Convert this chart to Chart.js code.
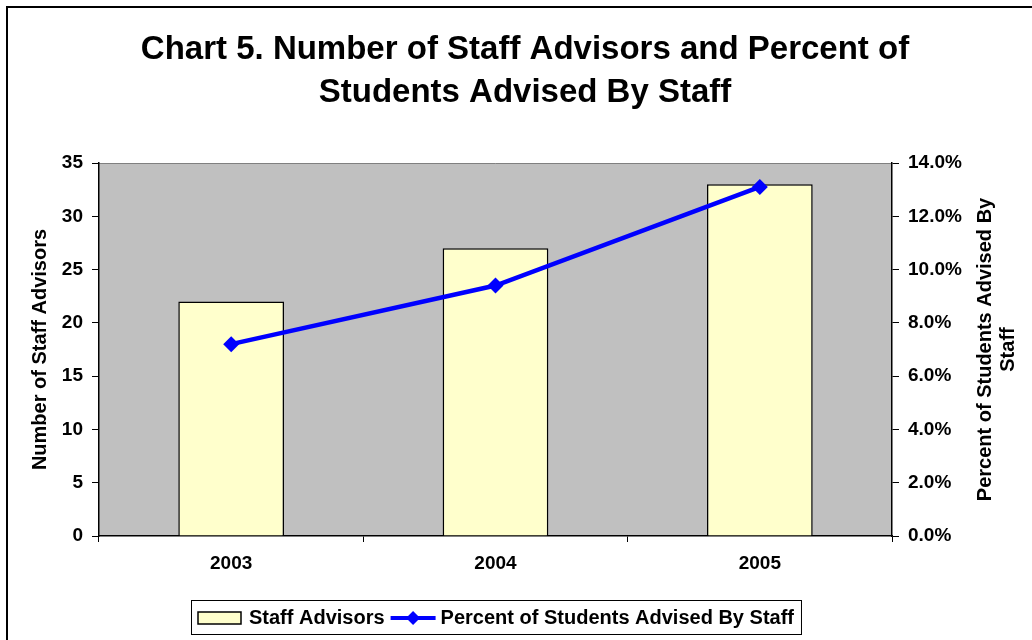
<!DOCTYPE html>
<html>
<head>
<meta charset="utf-8">
<script src="https://cdn.jsdelivr.net/npm/chart.js@4.4.1/dist/chart.umd.min.js"></script>
<style>
html,body{margin:0;padding:0;background:#fff;}
#wrap{width:1032px;height:640px;position:relative;}
</style>
</head>
<body>
<div id="wrap"><canvas id="c" width="1032" height="640"></canvas></div>
<script>
const categories = ['2003', '2004', '2005'];
const staffAdvisors = [22, 27, 33];
const percentAdvised = [7.2, 9.4, 13.1];
const leftTicks = {min: 0, max: 35, step: 5};
const rightTicks = {min: 0, max: 14, step: 2};
const titleLines = ['Chart 5. Number of Staff Advisors and Percent of', 'Students Advised By Staff'];
const leftTitle = 'Number of Staff Advisors';
const rightTitleLines = ['Percent of Students Advised By', 'Staff'];
const seriesNames = ['Staff Advisors', 'Percent of Students Advised By Staff'];

const FONT = "'Liberation Sans', Arial, sans-serif";

const decor = {
  id: 'decor',
  beforeDraw(chart) {
    const ctx = chart.ctx, a = chart.chartArea;
    ctx.save();
    ctx.fillStyle = '#ffffff';
    ctx.fillRect(0, 0, chart.width, chart.height);
    ctx.fillStyle = '#C0C0C0';
    ctx.fillRect(a.left, a.top, a.right - a.left, a.bottom - a.top);
    ctx.strokeStyle = '#808080';
    ctx.lineWidth = 1;
    ctx.beginPath();
    ctx.moveTo(a.left, a.top + 0.5);
    ctx.lineTo(a.right, a.top + 0.5);
    ctx.stroke();
    ctx.restore();
  },
  afterDraw(chart) {
    const ctx = chart.ctx, a = chart.chartArea;
    ctx.save();
    // outer frame (left and top)
    ctx.strokeStyle = '#000';
    ctx.lineWidth = 2;
    ctx.beginPath();
    ctx.moveTo(7, chart.height);
    ctx.lineTo(7, 7);
    ctx.lineTo(chart.width, 7);
    ctx.stroke();
    // title
    ctx.fillStyle = '#000';
    ctx.font = 'bold 33px ' + FONT;
    ctx.textAlign = 'center';
    ctx.textBaseline = 'alphabetic';
    ctx.fillText(titleLines[0], 525, 59);
    ctx.fillText(titleLines[1], 525, 102);
    // axis titles
    const cy = (a.top + a.bottom) / 2;
    ctx.font = 'bold 20px ' + FONT;
    ctx.textBaseline = 'middle';
    ctx.save();
    ctx.translate(40, cy);
    ctx.rotate(-Math.PI / 2);
    ctx.fillText(leftTitle, 0, 0);
    ctx.restore();
    ctx.save();
    ctx.translate(985, cy);
    ctx.rotate(-Math.PI / 2);
    ctx.fillText(rightTitleLines[0], 0, 0);
    ctx.fillText(rightTitleLines[1], 0, 23);
    ctx.restore();
    // legend
    const dsBar = chart.data.datasets.find(d => d.type === 'bar');
    const dsLine = chart.data.datasets.find(d => d.type === 'line');
    ctx.font = 'bold 20px ' + FONT;
    ctx.textAlign = 'left';
    const w0 = ctx.measureText(dsBar.label).width;
    const w1 = ctx.measureText(dsLine.label).width;
    const sw = 43, gap = 8, lw = 45;
    const inner = sw + gap + w0 + 6 + lw + 5 + w1;
    const boxW = inner + 14;
    const cx = (a.left + a.right) / 2;
    const bx = Math.round(cx - boxW / 2), by = 600, bh = 34;
    const my = by + bh / 2 + 1;
    ctx.fillStyle = '#fff';
    ctx.fillRect(bx, by, boxW, bh);
    ctx.strokeStyle = '#000';
    ctx.lineWidth = 1;
    ctx.strokeRect(bx + 0.5, by + 0.5, boxW, bh);
    let x = bx + 7;
    ctx.fillStyle = dsBar.backgroundColor;
    ctx.fillRect(x, my - 6, sw, 12);
    ctx.lineWidth = 1.5;
    ctx.strokeStyle = dsBar.borderColor;
    ctx.strokeRect(x, my - 6, sw, 12);
    x += sw + gap;
    ctx.fillStyle = '#000';
    ctx.fillText(dsBar.label, x, my);
    x += w0 + 6;
    ctx.strokeStyle = dsLine.borderColor;
    ctx.lineWidth = 4;
    ctx.beginPath();
    ctx.moveTo(x, my);
    ctx.lineTo(x + lw, my);
    ctx.stroke();
    ctx.fillStyle = dsLine.backgroundColor;
    const dx = x + lw / 2, r = 7;
    ctx.beginPath();
    ctx.moveTo(dx, my - r); ctx.lineTo(dx + r, my); ctx.lineTo(dx, my + r); ctx.lineTo(dx - r, my);
    ctx.closePath(); ctx.fill();
    x += lw + 5;
    ctx.fillStyle = '#000';
    ctx.fillText(dsLine.label, x, my);
    ctx.restore();
  }
};

new Chart(document.getElementById('c'), {
  data: {
    labels: categories,
    datasets: [
      {
        type: 'line',
        label: seriesNames[1],
        data: percentAdvised,
        yAxisID: 'y1',
        borderColor: '#0000FF',
        backgroundColor: '#0000FF',
        borderWidth: 4.5,
        pointStyle: 'rectRot',
        pointRadius: 8,
        pointBorderWidth: 0,
        tension: 0,
        order: 0
      },
      {
        type: 'bar',
        label: seriesNames[0],
        data: staffAdvisors,
        yAxisID: 'y',
        backgroundColor: '#FFFFCC',
        borderColor: '#000000',
        borderWidth: 1.5,
        categoryPercentage: 1.0,
        barPercentage: 0.4,
        order: 1
      }
    ]
  },
  options: {
    responsive: false,
    animation: false,
    layout: {padding: {top: 163, left: 0, right: 0, bottom: 54}},
    plugins: {legend: {display: false}, title: {display: false}, tooltip: {enabled: false}},
    scales: {
      x: {
        offset: true,
        grid: {offset: true, drawOnChartArea: false, tickLength: 6, color: '#000', tickColor: '#000'},
        border: {display: true, color: '#000', width: 1.5},
        ticks: {color: '#000', font: {family: FONT, size: 19, weight: 'bold'}, padding: 10},
        afterFit(s) { s.height = 50; }
      },
      y: {
        position: 'left',
        min: leftTicks.min, max: leftTicks.max,
        grid: {drawOnChartArea: false, tickLength: 7, color: '#000'},
        border: {display: true, color: '#000', width: 1.5},
        ticks: {stepSize: leftTicks.step, color: '#000', font: {family: FONT, size: 19, weight: 'bold'}, padding: 9},
        afterFit(s) { s.width = 99; }
      },
      y1: {
        position: 'right',
        min: rightTicks.min, max: rightTicks.max,
        grid: {drawOnChartArea: false, tickLength: 7, color: '#000'},
        border: {display: true, color: '#000', width: 1.5},
        ticks: {stepSize: rightTicks.step, color: '#000', font: {family: FONT, size: 19, weight: 'bold'}, padding: 9,
          callback: v => v.toFixed(1) + '%'},
        afterFit(s) { s.width = 140; }
      }
    }
  },
  plugins: [decor]
});
</script>
</body>
</html>
